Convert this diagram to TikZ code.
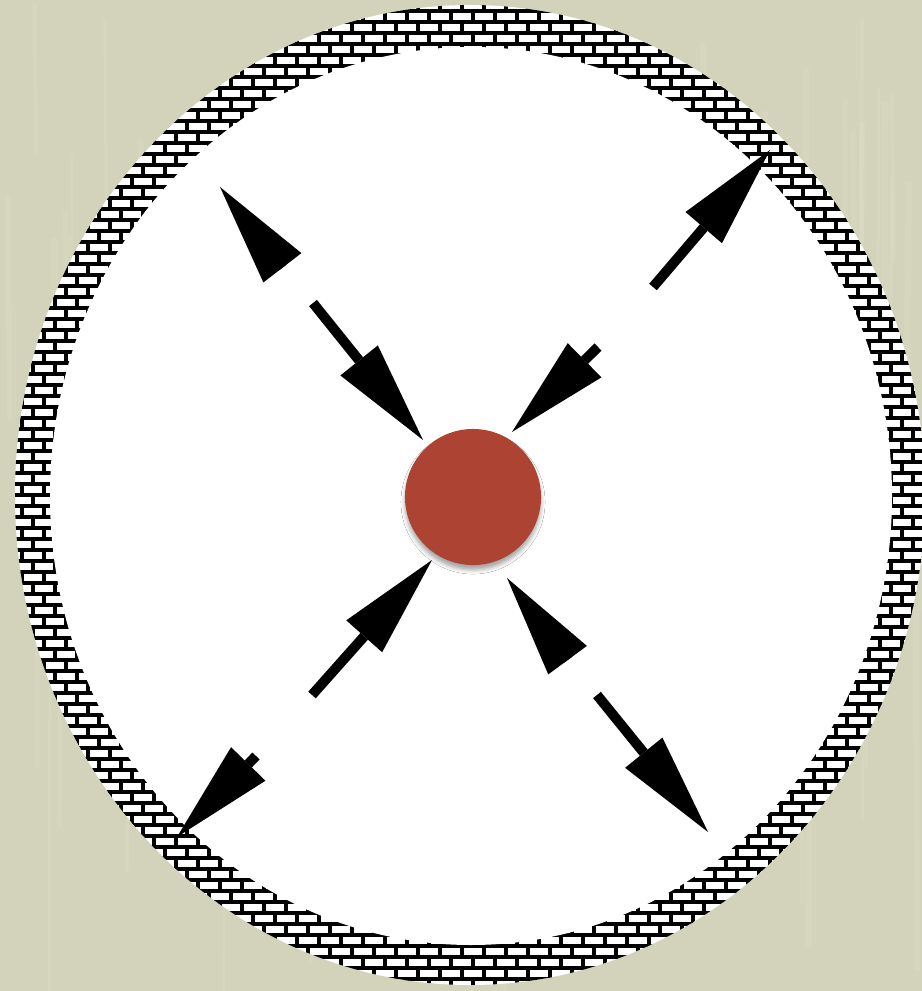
\documentclass[tikz,border=0pt]{standalone}
\usetikzlibrary{arrows.meta, shadows, shadows.blur}
\definecolor{wallbg}{HTML}{D3D3BB}
\definecolor{wallstreak}{HTML}{E0E0CB}
\definecolor{corered}{HTML}{AD4332}

\begin{document}
\begin{tikzpicture}[x=0.01cm, y=-0.01cm,
    brickline/.style={line width=0.95pt, black},
    pusharrow/.style={line width=0.1cm, -{Triangle[length=1.02cm, width=0.48cm, line width=0pt]}}]
  \useasboundingbox (0,0) rectangle (922,991);
  \fill[wallbg] (0,0) rectangle (922,991);
  \pgfmathsetseed{7}
  \foreach \i in {1,...,120}
    \draw[wallstreak, opacity=0.3, line width={0.02cm+rnd*0.05cm}]
      ({rnd*922},{rnd*700}) -- ++(rnd*4-2,{100+rnd*300});

  % brick wall ring
  \fill[white] (470,495) ellipse [x radius=455, y radius=490];
  \begin{scope}
    \clip (470,495) ellipse [x radius=455, y radius=490];
    \foreach \r in {0,...,90}
      \draw[brickline] (0,11*\r) -- (922,11*\r);
    \foreach \c in {0,...,42} {
      \draw[brickline, dash pattern=on 0.11cm off 0.11cm] (22*\c,0) -- (22*\c,991);
      \draw[brickline, dash pattern=on 0.11cm off 0.11cm, dash phase=0.11cm] (22*\c+11,0) -- (22*\c+11,991);
    }
  \end{scope}
  \fill[white] (471,496) ellipse [x radius=421, y radius=449];

  % centre
  \node[circle, fill=corered, minimum size=1.36cm, inner sep=0pt,
    blur shadow={shadow xshift=0pt, shadow yshift=-0.05cm, shadow blur radius=0.04cm, shadow opacity=35}] (core) at (473,497) {};

  % arrows
  \coordinate (nw-out-s) at (281,266); \coordinate (nw-out-t) at (220,187);
  \coordinate (nw-in-s) at (313,303);  \coordinate (nw-in-t) at (423,440);
  \coordinate (ne-in-s) at (598,347);  \coordinate (ne-in-t) at (512,432);
  \coordinate (ne-out-s) at (653,287); \coordinate (ne-out-t) at (770,150);
  \coordinate (sw-in-s) at (312,695);  \coordinate (sw-in-t) at (432,560);
  \coordinate (sw-out-s) at (256,756); \coordinate (sw-out-t) at (177,837);
  \coordinate (se-in-s) at (566,658);  \coordinate (se-in-t) at (507,578);
  \coordinate (se-out-s) at (597,695); \coordinate (se-out-t) at (708,832);
  \foreach \a in {nw-out, nw-in, ne-in, ne-out, sw-in, sw-out, se-in, se-out}
    \draw[pusharrow] (\a-s) -- (\a-t);
\end{tikzpicture}
\end{document}
